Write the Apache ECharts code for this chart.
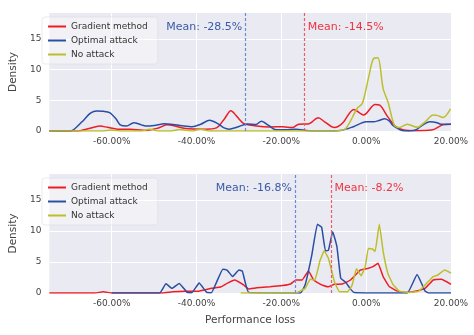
<!DOCTYPE html>
<html>
<head>
<meta charset="utf-8">
<script src="https://cdn.jsdelivr.net/npm/echarts@6/dist/echarts.min.js"></script>
<style>
  html, body { margin: 0; padding: 0; background: #fff; }
  #chart { width: 474px; height: 335px; }
</style>
</head>
<body>
<div id="chart"></div>
<script>
// x values are performance loss in %, y values are density
var xTicks = [-60, -40, -20, 0, 20];
var yTicks = [0, 5, 10, 15];
var names = ['Gradient method', 'Optimal attack', 'No attack'];

// top panel
var topGradX = [-74.7, -68, -66, -64, -62.8, -61, -58.6, -55.6, -51.8, -49, -47, -45.3, -42.6, -38, -35.3, -33.4, -31.9, -30.4, -28.9, -25.8, -22.7, -19.7, -17.4, -15.9, -13.6, -11.3, -9.8, -7.5, -5.6, -2.9, -0.6, 2.1, 3.2, 5.1, 7, 8.9, 11.6, 15.4, 18.1, 20];
var topGradY = [0, 0, 0.3, 0.65, 0.8, 0.6, 0.3, 0.27, 0.1, 0.5, 1.0, 0.85, 0.4, 0.3, 0.5, 2.0, 3.3, 2.3, 1.25, 0.8, 0.65, 0.7, 0.55, 1.1, 1.15, 2.15, 1.5, 0.55, 1.25, 3.5, 2.6, 4.3, 4.2, 2.3, 0.7, 0.15, 0.05, 0.15, 1.0, 1.1];
var topOptX = [-74.7, -70, -69, -67, -65, -63.5, -62, -60.5, -59, -58, -56.5, -54.8, -53, -52, -50, -47.5, -45.5, -43.4, -41, -39, -36.9, -35, -33.5, -32.3, -30.5, -28, -26, -24.7, -23, -21.2, -19, -16.6, -13.6, -10, -6, -3, 0, 1.7, 3, 4.4, 5.5, 6.3, 8, 9.3, 11.6, 13, 15, 16.5, 17.7, 20];
var topOptY = [0, 0, 0.2, 1.5, 2.9, 3.25, 3.2, 3.0, 2.0, 1.0, 0.8, 1.35, 1.0, 0.8, 0.9, 1.2, 1.05, 0.85, 0.7, 1.1, 1.75, 1.2, 0.5, 0.3, 0.6, 1.15, 1.05, 1.6, 0.9, 0.2, 0.2, 0.3, 0.05, 0, 0.1, 0.7, 1.5, 1.5, 1.7, 2.0, 1.6, 0.9, 0.2, 0, 0.15, 0.8, 1.5, 1.4, 1.1, 1.1];
var topNoX = [-74.7, -62, -60, -58, -53, -51, -49, -46, -44, -41, -39, -37, -30, -10, -6.5, -4.8, -2.1, -0.9, 0.6, 1.75, 2.75, 4.0, 5.2, 6.6, 7.8, 9.7, 12, 13.9, 15.8, 16.9, 18.1, 19.9];
var topNoY = [0, 0, 0.15, 0, 0, 0.3, 0, 0, 0.25, 0, 0.3, 0, 0, 0, 0.05, 0.4, 3.7, 4.5, 8.8, 11.8, 11.9, 6.9, 4.6, 1.0, 0.55, 1.1, 0.6, 1.5, 2.6, 2.5, 2.2, 3.6];
var topMeans = [-14.5, -28.5];

// bottom panel
var botGradX = [-74.7, -64, -62, -60, -48, -45.6, -42.6, -39.5, -36.5, -34.2, -32.7, -31, -28.9, -27.7, -25.8, -22.7, -19.7, -17.8, -16.6, -15.1, -13.6, -12.4, -10.5, -9, -7.5, -5.6, -3.7, -1.4, 0.5, 1.7, 2.8, 4, 5.5, 7.4, 9.3, 11.6, 13.9, 15.8, 17.7, 20];
var botGradY = [0, 0, 0.2, 0, 0, 0.2, 0.3, 0.3, 0.75, 1.0, 1.6, 2.1, 1.3, 0.65, 0.85, 1.0, 1.2, 1.45, 2.1, 2.1, 3.55, 2.1, 1.3, 1.0, 1.4, 1.45, 2.1, 3.7, 4.0, 4.3, 4.8, 2.65, 1.0, 0.3, 0.1, 0.3, 0.75, 2.1, 2.2, 1.4];
var botOptX = [-60, -48.7, -47.2, -45.8, -44.1, -42.2, -41.1, -39.4, -37.6, -36.5, -33.8, -32.8, -31.5, -30, -29.2, -27.7, -15.5, -14.4, -12.8, -11.5, -10.5, -9.6, -8.9, -7.9, -6.9, -6, -4.8, -3.8, -2.9, 9.7, 12, 13.9, 14.7, 20];
var botOptY = [0, 0, 1.5, 0.75, 1.55, 0.1, 0.05, 1.6, 0.1, 0.05, 3.85, 3.7, 2.65, 3.7, 3.55, 0.1, 0, 1.3, 6.2, 11.1, 10.6, 6.8, 6.9, 9.9, 7.5, 2.4, 1.7, 0.75, 0.1, 0, 3.0, 0.3, 0, 0];
var botNoX = [-29.6, -16.6, -14.4, -13.2, -12.1, -10.9, -9.9, -8.9, -7.5, -6.3, -4.4, -3.3, -2.3, -1.2, -0.2, 0.5, 1.5, 2.1, 3.1, 4, 5.1, 6.3, 7.8, 10.1, 12.4, 14.3, 15.8, 16.9, 18.5, 20];
var botNoY = [0, 0, 0.75, 2.2, 2.1, 5.2, 6.8, 5.6, 1.85, 0.2, 0.2, 1.3, 3.9, 2.8, 4.3, 7.2, 7.1, 6.7, 11.1, 6.7, 3.2, 1.4, 0.3, 0.1, 0.3, 1.6, 2.65, 2.9, 3.7, 3.2];
var botMeans = [-8.2, -16.8];

var RED = '#ee1d25', BLUE = '#2a4ea3', OLIVE = '#bcbf2b';
var RED_TXT = '#ec3542', BLUE_TXT = '#3b5aa8';
var RED_DASH = '#f05a64', BLUE_DASH = '#6a8ad6';
var FONT = 'DejaVu Sans';

function zip(xs, ys) {
    return xs.map(function (x, i) { return [x, ys[i]]; });
}

function meanMarks(mean, dashColor, txtColor, side) {
    var ls = { color: dashColor, type: [3, 2], width: 1.2, opacity: 1 };
    return {
        markLine: {
            silent: true,
            symbol: 'none',
            label: { show: false },
            itemStyle: { color: dashColor },
            lineStyle: ls,
            data: [{ xAxis: mean, lineStyle: ls }]
        },
        markPoint: {
            silent: true,
            symbol: 'circle',
            symbolSize: 0,
            label: {
                show: true,
                position: side,
                distance: 3,
                formatter: 'Mean: ' + mean.toFixed(1) + '%',
                color: txtColor,
                fontSize: 11,
                fontFamily: FONT
            },
            data: [{ coord: [mean, 16.9] }]
        }
    };
}

function line(name, idx, xs, ys, color, extra) {
    var s = {
        name: name,
        type: 'line',
        xAxisIndex: idx,
        yAxisIndex: idx,
        showSymbol: false,
        symbol: 'none',
        smooth: idx === 0 ? 0.3 : 0.1,
        lineStyle: { color: color, width: 1.5 },
        itemStyle: { color: color },
        data: zip(xs, ys)
    };
    if (extra) { s.markLine = extra.markLine; s.markPoint = extra.markPoint; }
    return s;
}

function xAxis(idx, withName) {
    return {
        type: 'value',
        gridIndex: idx,
        min: -74.7,
        max: 20,
        name: withName ? 'Performance loss' : '',
        nameLocation: 'middle',
        nameGap: 22,
        nameTextStyle: { color: '#444', fontSize: 10.5, fontFamily: FONT },
        axisLine: { show: false },
        axisTick: { show: false, customValues: xTicks },
        axisLabel: {
            customValues: xTicks,
            color: '#444', fontSize: 9, fontFamily: FONT, margin: 6,
            formatter: function (v) { return v.toFixed(2) + '%'; }
        },
        splitLine: { show: true, lineStyle: { color: '#ffffff', width: 1 } }
    };
}

function yAxis(idx) {
    return {
        type: 'value',
        gridIndex: idx,
        min: 0,
        max: 19.2,
        name: 'Density',
        nameLocation: 'middle',
        nameGap: 27,
        nameTextStyle: { color: '#444', fontSize: 10.5, fontFamily: FONT },
        axisLine: { show: false },
        axisTick: { show: false, customValues: yTicks },
        axisLabel: { customValues: yTicks, color: '#444', fontSize: 9, fontFamily: FONT, margin: 8 },
        splitLine: { show: true, lineStyle: { color: '#ffffff', width: 1 } }
    };
}

function legend(top) {
    return {
        data: names,
        orient: 'vertical',
        left: 42,
        top: top,
        itemWidth: 18,
        itemHeight: 2,
        itemGap: 5,
        icon: 'rect',
        padding: [5, 10, 5, 6],
        backgroundColor: 'rgba(255,255,255,0.35)',
        borderColor: '#d6d6de',
        borderWidth: 0.5,
        borderRadius: 3,
        textStyle: { color: '#333', fontSize: 9, fontFamily: FONT }
    };
}

var chart = echarts.init(document.getElementById('chart'));

option = {
    animation: false,
    color: [RED, BLUE, OLIVE],
    grid: [
        { left: 38, top: 13, width: 413, height: 118, show: true, backgroundColor: '#eaeaf2', borderWidth: 0 },
        { left: 38, top: 174, width: 413, height: 119, show: true, backgroundColor: '#eaeaf2', borderWidth: 0 }
    ],
    legend: [legend(17), legend(178)],
    xAxis: [xAxis(0, false), xAxis(1, true)],
    yAxis: [yAxis(0), yAxis(1)],
    series: [
        line(names[0], 0, topGradX, topGradY, RED, meanMarks(topMeans[0], RED_DASH, RED_TXT, 'right')),
        line(names[1], 0, topOptX, topOptY, BLUE, meanMarks(topMeans[1], BLUE_DASH, BLUE_TXT, 'left')),
        line(names[2], 0, topNoX, topNoY, OLIVE),
        line(names[0], 1, botGradX, botGradY, RED, meanMarks(botMeans[0], RED_DASH, RED_TXT, 'right')),
        line(names[1], 1, botOptX, botOptY, BLUE, meanMarks(botMeans[1], BLUE_DASH, BLUE_TXT, 'left')),
        line(names[2], 1, botNoX, botNoY, OLIVE)
    ]
};

chart.setOption(option);
</script>
</body>
</html>
